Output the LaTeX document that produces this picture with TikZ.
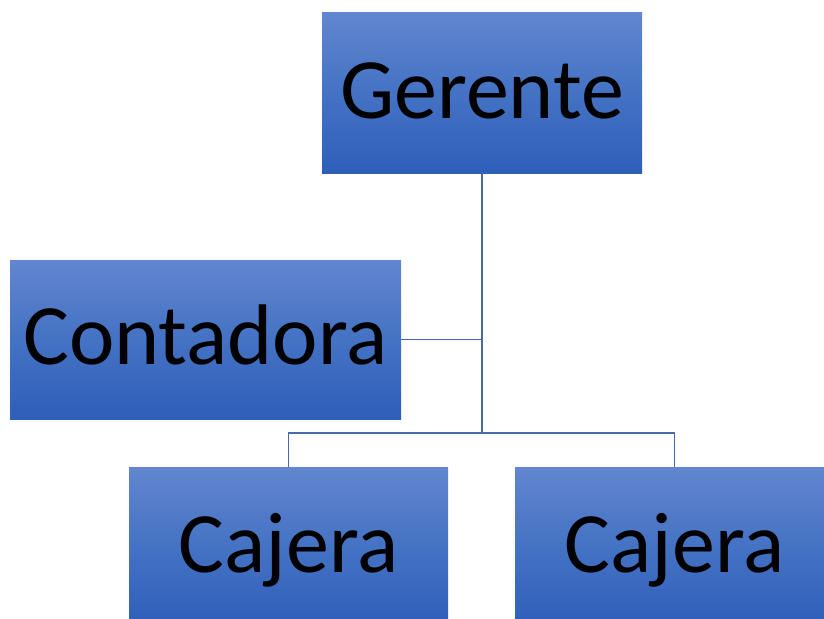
\documentclass[tikz,border=0pt]{standalone}
\usepackage{fontspec}
\setmainfont{Carlito}
\definecolor{boxtop}{RGB}{98,134,207}
\definecolor{boxmid}{RGB}{68,114,196}
\definecolor{boxbot}{RGB}{46,95,185}
\definecolor{linecol}{RGB}{72,106,170}
\tikzset{
  orgbox/.style={rectangle, draw=none, inner sep=0pt, minimum height=160pt,
    top color=boxtop, bottom color=boxbot, middle color=boxmid,
    font=\fontsize{86}{100}\selectfont, text=black, text height=50pt, text depth=0pt},
  conn/.style={draw=linecol, line width=1.5pt}
}
\begin{document}
\begin{tikzpicture}[x=1pt,y=-1pt]
\useasboundingbox (0,0) rectangle (824,618);
\clip (0,0) rectangle (824,618);
\node[orgbox, minimum width=320pt] (g) at (482,93) {Gerente};
\node[orgbox, minimum width=391pt, minimum height=159pt] (c) at (205.5,339.5) {Contadora};
\node[orgbox, minimum width=319pt] (k1) at (288.5,547) {Cajera};
\node[orgbox, minimum width=319pt] (k2) at (674.5,547) {Cajera};
\coordinate (bus) at (482,433);
\draw[conn] (g.south) -- (bus);
\draw[conn] (c.east) -- (c.east -| g.south);
\draw[conn] (bus) -| (k1.north);
\draw[conn] (bus) -| (k2.north);
\end{tikzpicture}
\end{document}
